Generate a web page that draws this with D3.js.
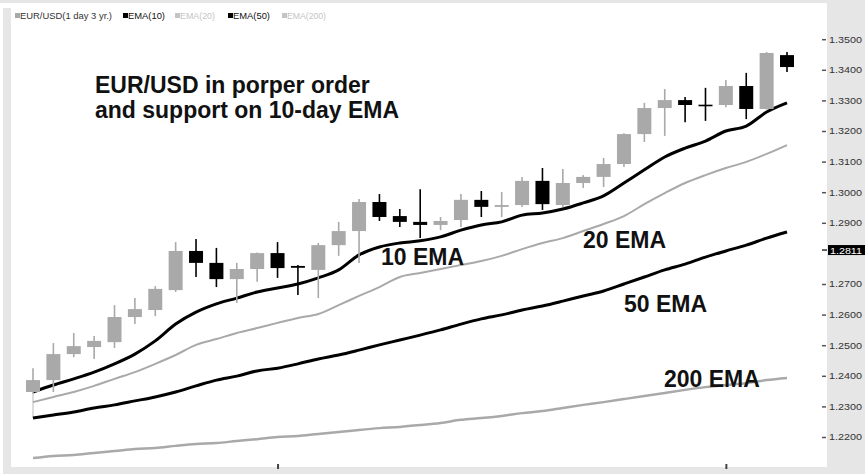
<!DOCTYPE html>
<html>
<head>
<meta charset="utf-8">
<script src="https://cdn.jsdelivr.net/npm/d3@7/dist/d3.min.js"></script>
<style>
    body { margin: 0; background: #fff; }
    svg { display: block; font-family: "Liberation Sans", Arial, sans-serif; }
</style>
</head>
<body>
<div id="chart"></div>
<script>
// daily candles, EUR/USD
const days = d3.range(1, 39);
const open = [1.2347, 1.2386, 1.2471, 1.2494, 1.2510, 1.2592, 1.2615, 1.2680, 1.2808, 1.2769,
    1.2716, 1.2749, 1.2801, 1.2759, 1.2746, 1.2827, 1.2873, 1.2968, 1.2922, 1.2903,
    1.2893, 1.2909, 1.2975, 1.2952, 1.2958, 1.3037, 1.2958, 1.3030, 1.3050, 1.3092,
    1.3190, 1.3275, 1.3301, 1.3286, 1.3285, 1.3347, 1.3272, 1.3448];
const high = [1.2425, 1.2507, 1.2540, 1.2530, 1.2631, 1.2654, 1.2693, 1.2837, 1.2847, 1.2818,
    1.2769, 1.2803, 1.2837, 1.2762, 1.2834, 1.2903, 1.2978, 1.2994, 1.2945, 1.3010,
    1.2919, 1.2994, 1.3004, 1.3001, 1.3050, 1.3079, 1.3076, 1.3056, 1.3112, 1.3193,
    1.3292, 1.3337, 1.3311, 1.3341, 1.3367, 1.3390, 1.3458, 1.3458];
const low = [1.2343, 1.2347, 1.2461, 1.2455, 1.2491, 1.2569, 1.2595, 1.2674, 1.2723, 1.2690,
    1.2638, 1.2707, 1.2720, 1.2664, 1.2654, 1.2792, 1.2769, 1.2906, 1.2886, 1.2850,
    1.2876, 1.2886, 1.2919, 1.2919, 1.2952, 1.2942, 1.2952, 1.3014, 1.3017, 1.3082,
    1.3164, 1.3184, 1.3229, 1.3233, 1.3278, 1.3239, 1.3270, 1.3393];
const close = [1.2386, 1.2471, 1.2497, 1.2514, 1.2592, 1.2618, 1.2684, 1.2808, 1.2769, 1.2716,
    1.2749, 1.2801, 1.2752, 1.2753, 1.2827, 1.2873, 1.2968, 1.2919, 1.2903, 1.2893,
    1.2906, 1.2975, 1.2952, 1.2958, 1.3037, 1.2961, 1.3030, 1.3050, 1.3092, 1.3190,
    1.3275, 1.3301, 1.3285, 1.3285, 1.3347, 1.3272, 1.3455, 1.3409];

const ema10 = [1.2347, 1.2370, 1.2390, 1.2412, 1.2439, 1.2471, 1.2514, 1.2569, 1.2608, 1.2635,
    1.2654, 1.2674, 1.2687, 1.2700, 1.2720, 1.2746, 1.2795, 1.2821, 1.2834, 1.2841,
    1.2854, 1.2876, 1.2893, 1.2903, 1.2925, 1.2932, 1.2945, 1.2965, 1.2988, 1.3030,
    1.3073, 1.3115, 1.3144, 1.3167, 1.3200, 1.3216, 1.3262, 1.3292];
const ema20 = [1.2314, 1.2331, 1.2347, 1.2367, 1.2390, 1.2412, 1.2439, 1.2468, 1.2501, 1.2520,
    1.2540, 1.2556, 1.2573, 1.2589, 1.2602, 1.2631, 1.2661, 1.2690, 1.2723, 1.2736,
    1.2749, 1.2762, 1.2775, 1.2792, 1.2814, 1.2834, 1.2850, 1.2873, 1.2896, 1.2922,
    1.2961, 1.2997, 1.3030, 1.3056, 1.3079, 1.3099, 1.3125, 1.3154];
const ema50 = [1.2262, 1.2272, 1.2282, 1.2295, 1.2305, 1.2318, 1.2331, 1.2347, 1.2367, 1.2386,
    1.2399, 1.2416, 1.2425, 1.2439, 1.2455, 1.2468, 1.2484, 1.2501, 1.2517, 1.2533,
    1.2550, 1.2569, 1.2586, 1.2599, 1.2615, 1.2628, 1.2644, 1.2661, 1.2677, 1.2700,
    1.2723, 1.2746, 1.2765, 1.2788, 1.2808, 1.2827, 1.2850, 1.2870];
const ema200 = [1.2131, 1.2138, 1.2141, 1.2148, 1.2154, 1.2161, 1.2164, 1.2171, 1.2177, 1.2180,
    1.2187, 1.2193, 1.2200, 1.2203, 1.2210, 1.2216, 1.2223, 1.2229, 1.2233, 1.2239,
    1.2246, 1.2256, 1.2262, 1.2269, 1.2278, 1.2285, 1.2295, 1.2305, 1.2314, 1.2324,
    1.2334, 1.2344, 1.2354, 1.2363, 1.2370, 1.2376, 1.2386, 1.2393];

// 1.2800 sits under the price tag, so it is left out
const priceTicks = [1.22, 1.23, 1.24, 1.25, 1.26, 1.27, 1.29, 1.30, 1.31, 1.32, 1.33, 1.34, 1.35];
const lastTag = 1.2811;
const dayTicks = [13, 35];

const legendNames = ["EUR/USD(1 day 3 yr.)", "EMA(10)", "EMA(20)", "EMA(50)", "EMA(200)"];
const emaNames = ["10 EMA", "20 EMA", "50 EMA", "200 EMA"];
const titleLines = ["EUR/USD in porper order", "and support on 10-day EMA"];

const width = 865, height = 474;
const GRAY = "#a9a9a9", PANEL = "#e6e6e6";

let svg = d3.select("#chart").append("svg")
    .attr("width", width)
    .attr("height", height);

//=================================================
// frame (gray bands round the white plot)
//=================================================
svg.append("rect").attr("x", 0).attr("y", 0).attr("width", width).attr("height", 3).attr("fill", PANEL);
svg.append("rect").attr("x", 3).attr("y", 8).attr("width", 8).attr("height", height - 8).attr("fill", PANEL);
svg.append("rect").attr("x", 827).attr("y", 0).attr("width", width - 827).attr("height", height).attr("fill", PANEL);
svg.append("rect").attr("x", 3).attr("y", 467).attr("width", width - 3).attr("height", 7).attr("fill", PANEL);

//=================================================
// scales
//=================================================
let x = d3.scalePoint().domain(days).range([33, 787]);
let y = d3.scaleLinear().domain([1.22, 1.35]).range([437, 39.2]);

//=================================================
// axes
//=================================================
let axisY = svg.append("g")
    .attr("transform", "translate(822,0)")
    .call(d3.axisRight(y).tickValues(priceTicks).tickSize(4).tickPadding(3).tickFormat(d3.format(".4f")));
axisY.select(".domain").remove();
axisY.selectAll("line").attr("stroke", "#555").attr("stroke-width", 1.5);
axisY.selectAll("text")
    .attr("fill", "#333")
    .attr("font-size", 9)
    .attr("textLength", 33)
    .attr("lengthAdjust", "spacingAndGlyphs");

// price tag on the axis
let tag = svg.append("g").attr("transform", "translate(0," + y(lastTag) + ")");
tag.append("line").attr("x1", 822).attr("x2", 827).attr("stroke", "#333").attr("stroke-width", 1.5);
tag.append("rect").attr("x", 828).attr("y", -5).attr("width", 37).attr("height", 10).attr("fill", "#000");
tag.append("text").attr("x", 830).attr("y", 3.5)
    .attr("fill", "#fff").attr("font-size", 9)
    .attr("textLength", 32).attr("lengthAdjust", "spacingAndGlyphs")
    .text(d3.format(".4f")(lastTag));

let axisX = svg.append("g")
    .attr("transform", "translate(0,464)")
    .call(d3.axisBottom(x).tickValues(dayTicks).tickSize(5).tickFormat(""));
axisX.select(".domain").remove();
axisX.selectAll("line").attr("stroke", "#444").attr("stroke-width", 2);

//=================================================
// moving averages
//=================================================
let line = d3.line()
    .x((d, i) => x(days[i]))
    .y(d => y(d))
    .curve(d3.curveMonotoneX);

let plot = svg.append("g");

// start marker joining the first averages
plot.append("line")
    .attr("x1", x(days[0])).attr("x2", x(days[0]))
    .attr("y1", y(ema10[0])).attr("y2", y(ema50[0]))
    .attr("stroke", "#bbb").attr("stroke-width", 1);

[[ema200, GRAY, 2.5], [ema50, "#000", 3], [ema20, GRAY, 2], [ema10, "#000", 3]].forEach(s => {
    plot.append("path")
        .datum(s[0])
        .attr("fill", "none")
        .attr("stroke", s[1])
        .attr("stroke-width", s[2])
        .attr("stroke-linejoin", "round")
        .attr("d", line);
});

//=================================================
// candles
//=================================================
let candles = plot.selectAll("g.candle")
    .data(days)
    .enter().append("g")
    .attr("class", "candle")
    .attr("transform", d => "translate(" + x(d) + ",0)");

let col = (d, i) => close[i] >= open[i] ? GRAY : "#000";

candles.append("line")
    .attr("y1", (d, i) => y(high[i]))
    .attr("y2", (d, i) => y(low[i]))
    .attr("stroke", col)
    .attr("stroke-width", 1.6);

candles.append("rect")
    .attr("x", -7)
    .attr("width", 14)
    .attr("y", (d, i) => y(Math.max(open[i], close[i])))
    .attr("height", (d, i) => Math.max(1.6, Math.abs(y(open[i]) - y(close[i]))))
    .attr("fill", col);

//=================================================
// legend
//=================================================
let legendX = [15, 123, 175, 228, 282];
let legendLen = [94, 39, 37, 39, 41];
let legendFill = [GRAY, "#000", "#c4c4c4", "#000", "#c4c4c4"];
let legendText = ["#333", "#111", "#c4c4c4", "#111", "#c4c4c4"];
let legend = svg.append("g");
legendNames.forEach((name, i) => {
    legend.append("rect")
        .attr("x", legendX[i]).attr("y", 13)
        .attr("width", 5).attr("height", 5)
        .attr("fill", legendFill[i]);
    legend.append("text")
        .attr("x", legendX[i] + 5).attr("y", 18.5)
        .attr("font-size", 8.5)
        .attr("fill", legendText[i])
        .attr("textLength", legendLen[i] - 2)
        .attr("lengthAdjust", "spacingAndGlyphs")
        .text(name);
});

//=================================================
// annotations
//=================================================
let title = svg.append("g").attr("font-weight", "bold").attr("font-size", 23).attr("fill", "#111");
titleLines.forEach((t, i) => {
    title.append("text").attr("x", 95).attr("y", 93 + i * 25).text(t);
});

let labelPos = [[381, 265], [583, 248], [624, 312], [664, 387]];
emaNames.forEach((t, i) => {
    svg.append("text")
        .attr("x", labelPos[i][0]).attr("y", labelPos[i][1])
        .attr("font-weight", "bold").attr("font-size", 23).attr("fill", "#111")
        .text(t);
});
</script>
</body>
</html>
